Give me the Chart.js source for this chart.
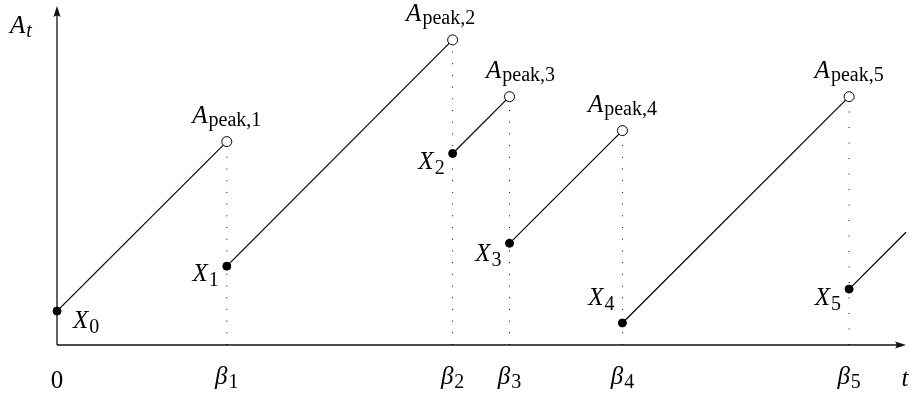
<!DOCTYPE html>
<html>
<head>
<title>Ramps and resets</title>
<script src="https://cdn.jsdelivr.net/npm/chart.js"></script>
<style>
body { margin: 0; background: #fff; }
#wrap { width: 912px; height: 401px; }
</style>
</head>
<body>
<div id="wrap"><canvas id="ramps" width="912" height="401"></canvas></div>
<script>
  // reset times beta_1..beta_5 on the t axis
  const betas = [2.0, 4.66, 5.33, 6.66, 9.33];
  const betaNames = ['1', '2', '3', '4', '5'];
  // value right after each reset: X_0..X_5
  const resets = [0.4, 0.93, 2.26, 1.2, 0.26, 0.66];
  // value just before each reset: A_peak,1..A_peak,5
  const peaks = [2.4, 3.6, 2.93, 2.53, 2.93];
  // the last ramp runs off the end of the axis
  const tEnd = 10;
  const lastValue = 1.33;
  const yTop = 4;

  // label placement (dx, dy from the point, alignment)
  const resetLabelPos = [[16, 17, 'left'], [-8, 15, 'right'], [-8, 16, 'right'], [-8, 18, 'right'], [-8, -18, 'right'], [-8, 16, 'right']];
  const peakLabelShift = [0, -12, 11, 0, 0];

  const MAIN = '25px "Liberation Serif"';
  const SUB = '20px "Liberation Serif"';

  const ramps = resets.map((r, i) => {
    const t0 = i === 0 ? 0 : betas[i - 1];
    const hasPeak = i < peaks.length;
    return {
      data: [{x: t0, y: r}, {x: hasPeak ? betas[i] : tEnd, y: hasPeak ? peaks[i] : lastValue}],
      showLine: true,
      borderColor: '#000',
      borderWidth: 1.2,
      pointRadius: [4, hasPeak ? 5 : 0],
      pointBackgroundColor: ['#000', '#fff'],
      pointBorderColor: '#000',
      pointBorderWidth: 1,
      clip: false
    };
  });

  // dotted guides from each peak down to the axis
  const guides = betas.map((b, i) => ({
    data: [{x: b, y: 0}, {x: b, y: peaks[i]}],
    showLine: true,
    borderColor: '#000',
    borderWidth: 1,
    borderDash: i === 4 ? [1, 14.5] : [1, 10.7],
    pointRadius: 0,
    clip: false
  }));

  function mathLabel(ctx, main, sub, x, y, align, subItalic, subDrop) {
    ctx.font = 'italic ' + MAIN;
    const w1 = ctx.measureText(main).width;
    ctx.font = (subItalic ? 'italic ' : '') + SUB;
    const w2 = ctx.measureText(sub).width;
    const total = w1 + 1 + w2;
    let left = x - total / 2;
    if (align === 'left') left = x;
    if (align === 'right') left = x - total;
    ctx.font = 'italic ' + MAIN;
    ctx.fillText(main, left, y);
    ctx.font = (subItalic ? 'italic ' : '') + SUB;
    ctx.fillText(sub, left + w1 + 1, y + (subDrop || 4));
  }

  const sketch = {
    id: 'sketch',
    beforeDatasetsDraw(chart) {
      const ctx = chart.ctx;
      const sx = chart.scales.x, sy = chart.scales.y;
      const x0 = sx.getPixelForValue(0), y0 = sy.getPixelForValue(0);
      const xEnd = sx.getPixelForValue(tEnd), yEnd = sy.getPixelForValue(yTop);
      ctx.save();
      ctx.strokeStyle = '#111';
      ctx.fillStyle = '#111';
      ctx.lineWidth = 1.3;
      ctx.beginPath();
      ctx.moveTo(x0, y0);
      ctx.lineTo(xEnd - 6, y0);
      ctx.moveTo(x0, y0);
      ctx.lineTo(x0, yEnd + 6);
      ctx.stroke();
      // arrow heads
      ctx.beginPath();
      ctx.moveTo(xEnd, y0);
      ctx.lineTo(xEnd - 11, y0 - 3.6);
      ctx.quadraticCurveTo(xEnd - 8, y0, xEnd - 11, y0 + 3.6);
      ctx.closePath();
      ctx.fill();
      ctx.beginPath();
      ctx.moveTo(x0, yEnd);
      ctx.lineTo(x0 - 3.6, yEnd + 11);
      ctx.quadraticCurveTo(x0, yEnd + 8, x0 + 3.6, yEnd + 11);
      ctx.closePath();
      ctx.fill();
      ctx.restore();
    },
    afterDatasetsDraw(chart) {
      const ctx = chart.ctx;
      const sx = chart.scales.x, sy = chart.scales.y;
      const y0 = sy.getPixelForValue(0);
      ctx.save();
      ctx.fillStyle = '#000';
      ctx.textBaseline = 'alphabetic';
      ctx.textAlign = 'left';
      // axis names
      mathLabel(ctx, 'A', 't', 10, 33, 'left', true, 4);
      ctx.font = 'italic ' + MAIN;
      ctx.textAlign = 'center';
      ctx.fillText('t', sx.getPixelForValue(tEnd) - 1, y0 + 41);
      ctx.font = MAIN;
      ctx.fillText('0', sx.getPixelForValue(0), y0 + 43);
      ctx.textAlign = 'left';
      // beta ticks
      betas.forEach((b, i) => {
        mathLabel(ctx, 'β', betaNames[i], sx.getPixelForValue(b), y0 + 39, 'center', false, 4);
      });
      // reset labels
      resets.forEach((r, i) => {
        const t = i === 0 ? 0 : betas[i - 1];
        const p = resetLabelPos[i];
        mathLabel(ctx, 'X', String(i), sx.getPixelForValue(t) + p[0], sy.getPixelForValue(r) + p[1], p[2], false, 5);
      });
      // peak labels
      peaks.forEach((v, i) => {
        mathLabel(ctx, 'A', 'peak,' + (i + 1), sx.getPixelForValue(betas[i]) + peakLabelShift[i], sy.getPixelForValue(v) - 19, 'center', false, 3);
      });
      ctx.restore();
    }
  };

  new Chart(document.getElementById('ramps'), {
    type: 'scatter',
    data: {datasets: ramps.concat(guides)},
    options: {
      responsive: false,
      animation: false,
      events: [],
      layout: {padding: {left: 57, right: 5, top: 5, bottom: 56}},
      plugins: {legend: {display: false}, tooltip: {enabled: false}},
      scales: {
        x: {type: 'linear', min: 0, max: tEnd, display: false},
        y: {type: 'linear', min: 0, max: yTop, display: false}
      }
    },
    plugins: [sketch]
  });
</script>
</body>
</html>
